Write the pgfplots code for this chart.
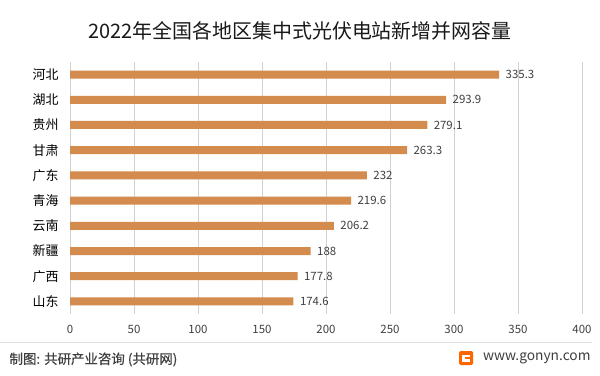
\documentclass[border=0pt]{standalone}
\usepackage{fontspec}
\setmainfont{Noto Sans CJK SC}
\newfontfamily\footfont[FakeBold=0.5]{Noto Sans CJK SC}
\usepackage{pgfplots}
\pgfplotsset{compat=1.18}
\definecolor{barc}{HTML}{D38B4E}
\definecolor{txt}{HTML}{404040}
\begin{document}
\begin{tikzpicture}[x=1bp,y=1bp]
\fill[white] (0,0) rectangle (600,375);
\useasboundingbox (0,0) rectangle (600,375);
\node[font=\fontsize{20}{24}\selectfont, text=black!90] at (300,344) {2022年全国各地区集中式光伏电站新增并网容量};
\begin{axis}[at={(70bp,61bp)}, anchor=south west, scale only axis,
  width=512bp, height=252bp,
  xbar, bar width=8bp,
  xmin=0, xmax=400, xtick={0,50,...,400},
  ymin=-0.5, ymax=9.5, ytick={0,...,9},
  yticklabels={山东,广西,新疆,云南,青海,广东,甘肃,贵州,湖北,河北},
  axis line style={draw=none},
  major tick length=0pt,
  xmajorgrids, major grid style={draw=black!18, line width=0.8bp},
  /pgf/number format/assume math mode=true,
  xticklabel style={font=\fontsize{11.5}{13}\selectfont, text=txt, yshift=-8bp},
  yticklabel style={font=\fontsize{13}{15}\selectfont, text=black, xshift=-8bp},
  nodes near coords,
  nodes near coords style={font=\fontsize{11.5}{13}\selectfont, text=txt, anchor=west, xshift=3bp},
  clip=false,
]
\addplot[fill=barc, draw=none] coordinates {
(174.6,0) (177.8,1) (188,2) (206.2,3) (219.6,4) (232,5) (263.3,6) (279.1,7) (293.9,8) (335.3,9)
};
\end{axis}
\draw[black!12, line width=0.8bp] (0,33) -- (592,33);
\node[font=\footfont\fontsize{13.5}{15}\selectfont, text=txt, anchor=west] at (6,15.5) {制图: 共研产业咨询 (共研网)};
\fill[orange!80!red, rounded corners=1.5bp] (459,10) rectangle (473,24);
\fill[white] (462,13.5) rectangle (470,16);
\fill[white] (462,13.5) rectangle (464.5,20.5);
\fill[white] (462,18.5) rectangle (470,20.5);
\node[font=\fontsize{13.8}{15}\selectfont, text=txt, anchor=east] at (594,17) {www.gonyn.com};
\end{tikzpicture}
\end{document}
